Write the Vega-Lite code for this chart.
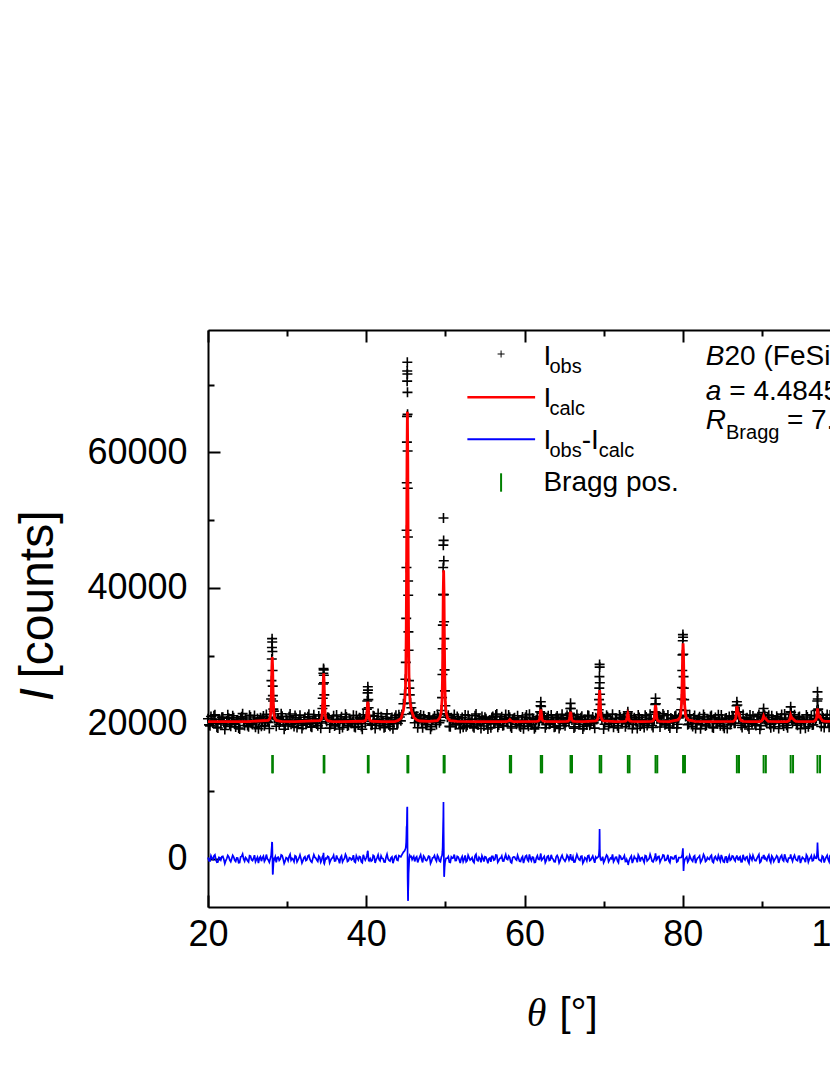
{
"$schema": "https://vega.github.io/schema/vega-lite/v6.json",
"autosize": {"type": "none"},
"padding": {"left": 208, "top": 330, "right": -11, "bottom": 168},
"width": 633,
"height": 577,
"config": {"view": {"stroke": null}, "axis": {"grid": false, "domainColor": "black", "tickColor": "black", "labelColor": "black", "titleColor": "black", "titleFontWeight": "normal", "labelFont": "Liberation Sans", "titleFont": "Liberation Sans"}},
"datasets": {
"pat": [
{"t":20.0,"o":20680,"d":220},{"t":20.25,"o":19630,"d":-310},{"t":20.5,"o":20430,"d":90},{"t":20.75,"o":21120,"d":440},{"t":21.0,"o":20000,"d":-120},{"t":21.25,"o":19310,"d":-470},{"t":21.5,"o":20570,"d":160},{"t":21.75,"o":20900,"d":320},{"t":22.0,"o":20140,"d":-60},{"t":22.25,"o":19760,"d":-240},{"t":22.5,"o":21280,"d":520},{"t":22.75,"o":19890,"d":-180},{"t":23.0,"o":20330,"d":40},{"t":23.25,"o":20810,"d":280},{"t":23.5,"o":19480,"d":-380},{"t":23.75,"o":20490,"d":120},{"t":24.0,"o":19160,"d":-540},{"t":24.25,"o":20960,"d":360},{"t":24.5,"o":20220,"d":-20},{"t":24.75,"o":20640,"d":200},{"t":25.0,"o":19680,"d":-280},{"t":25.25,"o":21200,"d":480},{"t":25.5,"o":19970,"d":-140},{"t":25.75,"o":20390,"d":70},{"t":26.0,"o":19420,"d":-420},{"t":26.25,"o":20730,"d":240},{"t":26.5,"o":20510,"d":130},{"t":26.75,"o":19570,"d":-340},{"t":27.0,"o":21070,"d":410},{"t":27.25,"o":20080,"d":-80},{"t":27.5,"o":20300,"d":20},{"t":27.75,"o":19250,"d":-500},
{"t":27.9,"o":20900,"d":150},{"t":27.98,"o":23600,"d":500},{"t":28.02,"o":26300,"d":1200},{"t":28.06,"o":29500,"d":1800},{"t":28.08,"o":31200,"d":2400},{"t":28.1,"o":32500,"d":2500},{"t":28.12,"o":32000,"d":2200},{"t":28.14,"o":30600,"d":1100},{"t":28.16,"o":27800,"d":-900},{"t":28.18,"o":25500,"d":-2200},{"t":28.2,"o":24100,"d":-2300},{"t":28.22,"o":23300,"d":-1700},{"t":28.26,"o":22100,"d":-900},{"t":28.32,"o":21800,"d":200},{"t":28.38,"o":20700,"d":-100},
{"t":28.5,"o":20850,"d":300},{"t":28.75,"o":20600,"d":180},{"t":29.0,"o":19810,"d":-220},{"t":29.25,"o":21410,"d":580},{"t":29.5,"o":20190,"d":-30},{"t":29.75,"o":19620,"d":-320},{"t":30.0,"o":20460,"d":100},{"t":30.25,"o":20980,"d":360},{"t":30.5,"o":19860,"d":-200},{"t":30.75,"o":20110,"d":-70},{"t":31.0,"o":21170,"d":460},{"t":31.25,"o":19380,"d":-440},{"t":31.5,"o":20540,"d":140},{"t":31.75,"o":20320,"d":40},{"t":32.0,"o":19720,"d":-260},{"t":32.25,"o":20900,"d":320},{"t":32.5,"o":20000,"d":-120},{"t":32.75,"o":21340,"d":540},{"t":33.0,"o":19530,"d":-360},{"t":33.25,"o":20410,"d":80},{"t":33.5,"o":20690,"d":220},{"t":33.75,"o":19940,"d":-160},{"t":34.0,"o":21080,"d":420},{"t":34.25,"o":19270,"d":-490},
{"t":34.46,"o":22200,"d":300},{"t":34.5,"o":23700,"d":400},{"t":34.54,"o":25800,"d":300},{"t":34.58,"o":27400,"d":600},{"t":34.6,"o":28100,"d":900},{"t":34.62,"o":27900,"d":500},{"t":34.64,"o":27100,"d":-100},{"t":34.66,"o":26000,"d":-600},{"t":34.7,"o":24200,"d":-700},{"t":34.74,"o":22600,"d":-500},{"t":34.8,"o":21300,"d":-200},{"t":34.88,"o":20600,"d":100},
{"t":35.0,"o":20270,"d":10},{"t":35.25,"o":20810,"d":280},{"t":35.5,"o":19840,"d":-200},{"t":35.75,"o":20550,"d":150},{"t":36.0,"o":19600,"d":-320},{"t":36.25,"o":21240,"d":500},{"t":36.5,"o":20130,"d":-60},{"t":36.75,"o":20630,"d":190},{"t":37.0,"o":19390,"d":-430},{"t":37.25,"o":20370,"d":60},{"t":37.5,"o":20950,"d":350},{"t":37.75,"o":19730,"d":-260},{"t":38.0,"o":20500,"d":120},{"t":38.25,"o":20230,"d":-10},{"t":38.5,"o":19490,"d":-380},{"t":38.75,"o":21130,"d":440},{"t":39.0,"o":19920,"d":-160},{"t":39.25,"o":20760,"d":260},{"t":39.5,"o":19130,"d":-560},{"t":39.75,"o":20590,"d":170},
{"t":40.02,"o":21000,"d":200},{"t":40.08,"o":22100,"d":500},{"t":40.13,"o":23300,"d":800},{"t":40.17,"o":24500,"d":1100},{"t":40.2,"o":25400,"d":1200},{"t":40.22,"o":24900,"d":900},{"t":40.26,"o":23500,"d":300},{"t":40.3,"o":22300,"d":-200},{"t":40.36,"o":21200,"d":-300},
{"t":40.5,"o":20310,"d":30},{"t":40.75,"o":19800,"d":-220},{"t":41.0,"o":21040,"d":400},{"t":41.25,"o":20050,"d":-100},{"t":41.5,"o":21460,"d":600},{"t":41.75,"o":19670,"d":-290},{"t":42.0,"o":20440,"d":100},{"t":42.25,"o":19350,"d":-450},{"t":42.5,"o":20720,"d":240},{"t":42.75,"o":20280,"d":20},{"t":43.0,"o":19560,"d":-340},{"t":43.25,"o":20860,"d":300},{"t":43.5,"o":19990,"d":-130},{"t":43.75,"o":21190,"d":470},{"t":44.0,"o":19970,"d":-220},{"t":44.25,"o":20950,"d":400},{"t":44.5,"o":21300,"d":600},
{"t":44.7,"o":22900,"d":1000},{"t":44.85,"o":24300,"d":1200},{"t":44.95,"o":26500,"d":1500},{"t":45.0,"o":29000,"d":1700},{"t":45.05,"o":35500,"d":2500},{"t":45.08,"o":43000,"d":3700},{"t":45.1,"o":48500,"d":4800},{"t":45.12,"o":55500,"d":4600},{"t":45.14,"o":61500,"d":5300},{"t":45.15,"o":65300,"d":6400},{"t":45.17,"o":70500,"d":7600},{"t":45.18,"o":72000,"d":7300},{"t":45.19,"o":73300,"d":7700},{"t":45.2,"o":71550,"d":5500},{"t":45.21,"o":68850,"d":3200},{"t":45.22,"o":65600,"d":900},{"t":45.23,"o":60200,"d":-2700},{"t":45.25,"o":54700,"d":-4200},{"t":45.27,"o":47500,"d":-6000},{"t":45.29,"o":41000,"d":-6200},{"t":45.3,"o":38900,"d":-4800},{"t":45.33,"o":33500,"d":-3500},{"t":45.35,"o":30800,"d":-2200},{"t":45.4,"o":26300,"d":-900},{"t":45.45,"o":25200,"d":200},{"t":45.5,"o":24200,"d":500},{"t":45.6,"o":23000,"d":300},{"t":45.7,"o":22300,"d":350},{"t":45.8,"o":21400,"d":-100},
{"t":46.0,"o":21620,"d":360},{"t":46.25,"o":20820,"d":140},{"t":46.5,"o":19360,"d":-520},{"t":46.75,"o":20780,"d":260},{"t":47.0,"o":20100,"d":-80},{"t":47.25,"o":21110,"d":430},{"t":47.5,"o":19870,"d":-190},{"t":47.75,"o":20260,"d":0},{"t":48.0,"o":20920,"d":340},{"t":48.25,"o":19520,"d":-360},{"t":48.5,"o":20670,"d":210},{"t":48.75,"o":20160,"d":-40},{"t":49.0,"o":21300,"d":520},{"t":49.25,"o":20090,"d":-300},
{"t":49.5,"o":21900,"d":300},{"t":49.58,"o":23800,"d":500},{"t":49.63,"o":27200,"d":1100},{"t":49.66,"o":31000,"d":1800},{"t":49.68,"o":34500,"d":3100},{"t":49.7,"o":39000,"d":4000},{"t":49.72,"o":43000,"d":5300},{"t":49.74,"o":46300,"d":6200},{"t":49.76,"o":50300,"d":8400},{"t":49.78,"o":47000,"d":4400},{"t":49.8,"o":44000,"d":2000},{"t":49.82,"o":39000,"d":-1100},{"t":49.84,"o":35000,"d":-2650},{"t":49.86,"o":32500,"d":-2400},{"t":49.9,"o":27900,"d":-1300},{"t":49.95,"o":24800,"d":-600},{"t":50.0,"o":22600,"d":-300},{"t":50.08,"o":21400,"d":100},
{"t":50.25,"o":20920,"d":110},{"t":50.5,"o":19550,"d":-480},{"t":50.75,"o":20830,"d":290},{"t":51.0,"o":20560,"d":160},{"t":51.25,"o":19780,"d":-240},{"t":51.5,"o":21010,"d":380},{"t":51.75,"o":20020,"d":-120},{"t":52.0,"o":20380,"d":60},{"t":52.25,"o":19410,"d":-420},{"t":52.5,"o":21250,"d":500},{"t":52.75,"o":19710,"d":-270},{"t":53.0,"o":20610,"d":180},{"t":53.25,"o":20190,"d":-30},{"t":53.5,"o":19550,"d":-350},{"t":53.75,"o":21140,"d":440},{"t":54.0,"o":19910,"d":-170},{"t":54.25,"o":20730,"d":240},{"t":54.5,"o":19240,"d":-500},{"t":54.75,"o":20450,"d":100},{"t":55.0,"o":20890,"d":320},{"t":55.25,"o":19970,"d":-140},{"t":55.5,"o":20340,"d":40},{"t":55.75,"o":19370,"d":-440},{"t":56.0,"o":21020,"d":380},{"t":56.25,"o":20090,"d":-80},{"t":56.5,"o":21380,"d":560},{"t":56.75,"o":19750,"d":-250},{"t":57.0,"o":20510,"d":130},{"t":57.25,"o":19630,"d":-310},{"t":57.5,"o":20660,"d":200},{"t":57.75,"o":20210,"d":-20},{"t":58.0,"o":21240,"d":420},{"t":58.25,"o":19540,"d":-460},{"t":58.5,"o":20580,"d":160},{"t":58.75,"o":20810,"d":280},{"t":59.0,"o":19880,"d":-180},{"t":59.25,"o":20400,"d":80},{"t":59.5,"o":19470,"d":-390},{"t":59.75,"o":20930,"d":340},{"t":60.0,"o":20040,"d":-100},{"t":60.25,"o":21240,"d":500},{"t":60.5,"o":19590,"d":-330},{"t":60.75,"o":20290,"d":20},{"t":61.0,"o":20770,"d":260},{"t":61.25,"o":19190,"d":-530},{"t":61.5,"o":20550,"d":150},{"t":61.75,"o":20130,"d":-60},
{"t":61.92,"o":20900,"d":100},{"t":61.98,"o":21700,"d":300},{"t":62.02,"o":22600,"d":600},{"t":62.06,"o":23200,"d":800},{"t":62.1,"o":22500,"d":300},{"t":62.16,"o":21500,"d":-200},{"t":62.24,"o":20600,"d":-100},
{"t":62.5,"o":20990,"d":370},{"t":62.75,"o":19800,"d":-220},{"t":63.0,"o":21120,"d":440},{"t":63.25,"o":19950,"d":-150},{"t":63.5,"o":20430,"d":90},{"t":63.75,"o":19430,"d":-410},{"t":64.0,"o":20840,"d":300},{"t":64.25,"o":20650,"d":200},{"t":64.5,"o":19690,"d":-280},{"t":64.75,"o":21330,"d":540},{"t":65.0,"o":20010,"d":-120},{"t":65.25,"o":20160,"d":-40},{"t":65.5,"o":20900,"d":320},
{"t":65.68,"o":20700,"d":0},{"t":65.74,"o":21500,"d":300},{"t":65.79,"o":22200,"d":500},{"t":65.82,"o":22950,"d":700},{"t":65.86,"o":22200,"d":300},{"t":65.92,"o":21100,"d":-100},{"t":66.0,"o":20500,"d":-150},
{"t":66.25,"o":19300,"d":-480},{"t":66.5,"o":20480,"d":120},{"t":66.75,"o":20710,"d":230},{"t":67.0,"o":19860,"d":-200},{"t":67.25,"o":21060,"d":400},{"t":67.5,"o":19550,"d":-350},{"t":67.75,"o":20360,"d":60},{"t":68.0,"o":21180,"d":460},{"t":68.25,"o":19730,"d":-260},{"t":68.5,"o":20530,"d":140},{"t":68.75,"o":20070,"d":-90},{"t":69.0,"o":20820,"d":280},
{"t":69.32,"o":21000,"d":300},{"t":69.38,"o":22000,"d":500},{"t":69.42,"o":23500,"d":900},{"t":69.45,"o":25200,"d":1500},{"t":69.47,"o":26900,"d":2700},{"t":69.49,"o":28700,"d":4400},{"t":69.5,"o":28300,"d":3800},{"t":69.52,"o":26000,"d":1500},{"t":69.55,"o":24300,"d":400},{"t":69.6,"o":22800,"d":0},{"t":69.68,"o":21300,"d":-200},{"t":69.78,"o":20500,"d":-100},
{"t":70.0,"o":19170,"d":-540},{"t":70.25,"o":20630,"d":190},{"t":70.5,"o":20970,"d":360},{"t":70.75,"o":19980,"d":-140},{"t":71.0,"o":20310,"d":30},{"t":71.25,"o":19410,"d":-420},{"t":71.5,"o":20750,"d":250},{"t":71.75,"o":19640,"d":-300},{"t":72.0,"o":21250,"d":500},{"t":72.25,"o":20110,"d":-70},{"t":72.5,"o":20590,"d":170},{"t":72.75,"o":19490,"d":-380},
{"t":72.92,"o":20400,"d":-100},{"t":72.98,"o":20900,"d":-300},{"t":73.03,"o":21400,"d":-600},{"t":73.06,"o":21700,"d":-400},{"t":73.1,"o":20600,"d":-900},{"t":73.16,"o":20300,"d":-500},{"t":73.24,"o":20100,"d":-200},
{"t":73.5,"o":21100,"d":420},{"t":73.75,"o":19830,"d":-210},{"t":74.0,"o":20420,"d":80},{"t":74.25,"o":19260,"d":-500},{"t":74.5,"o":20870,"d":310},{"t":74.75,"o":20500,"d":120},{"t":75.0,"o":19920,"d":-160},{"t":75.25,"o":21210,"d":480},{"t":75.5,"o":19670,"d":-290},{"t":75.75,"o":20320,"d":40},{"t":76.0,"o":20690,"d":220},{"t":76.25,"o":19380,"d":-440},
{"t":76.4,"o":20600,"d":0},{"t":76.47,"o":21700,"d":300},{"t":76.52,"o":22800,"d":500},{"t":76.56,"o":23700,"d":800},{"t":76.6,"o":22900,"d":400},{"t":76.66,"o":21600,"d":-200},{"t":76.74,"o":20700,"d":-100},
{"t":77.0,"o":20960,"d":360},{"t":77.25,"o":20050,"d":-100},{"t":77.5,"o":21400,"d":580},{"t":77.75,"o":19780,"d":-240},{"t":78.0,"o":20380,"d":60},{"t":78.25,"o":19610,"d":-320},{"t":78.5,"o":20790,"d":270},{"t":78.75,"o":20200,"d":-20},{"t":79.0,"o":21050,"d":400},{"t":79.25,"o":19330,"d":-460},{"t":79.5,"o":20810,"d":180},
{"t":79.8,"o":22000,"d":200},{"t":79.86,"o":23600,"d":300},{"t":79.9,"o":25300,"d":500},{"t":79.94,"o":27800,"d":600},{"t":79.97,"o":30100,"d":1000},{"t":80.0,"o":32200,"d":1300},{"t":80.02,"o":33100,"d":1560},{"t":80.04,"o":32700,"d":900},{"t":80.07,"o":30200,"d":-600},{"t":80.1,"o":26900,"d":-1770},{"t":80.13,"o":25200,"d":-1200},{"t":80.18,"o":23500,"d":-500},{"t":80.26,"o":21900,"d":-100},{"t":80.36,"o":21000,"d":100},
{"t":80.5,"o":21110,"d":300},{"t":80.75,"o":19900,"d":-180},{"t":81.0,"o":20460,"d":100},{"t":81.25,"o":19520,"d":-360},{"t":81.5,"o":21150,"d":450},{"t":81.75,"o":19990,"d":-130},{"t":82.0,"o":20730,"d":240},{"t":82.25,"o":19220,"d":-520},{"t":82.5,"o":20410,"d":80},{"t":82.75,"o":20940,"d":340},{"t":83.0,"o":19760,"d":-240},{"t":83.25,"o":20270,"d":10},{"t":83.5,"o":21010,"d":380},{"t":83.75,"o":19440,"d":-400},{"t":84.0,"o":20640,"d":200},{"t":84.25,"o":20150,"d":-50},{"t":84.5,"o":21270,"d":510},{"t":84.75,"o":19650,"d":-300},{"t":85.0,"o":20540,"d":140},{"t":85.25,"o":19280,"d":-480},{"t":85.5,"o":20800,"d":280},{"t":85.75,"o":20370,"d":60},{"t":86.0,"o":19820,"d":-220},{"t":86.25,"o":21130,"d":440},{"t":86.5,"o":20010,"d":-120},
{"t":86.66,"o":20700,"d":0},{"t":86.74,"o":21700,"d":200},{"t":86.8,"o":22600,"d":300},{"t":86.84,"o":23200,"d":500},{"t":86.9,"o":22700,"d":200},{"t":86.98,"o":21700,"d":-100},{"t":87.08,"o":20800,"d":-150},
{"t":87.25,"o":20890,"d":320},{"t":87.5,"o":19400,"d":-420},{"t":87.75,"o":20330,"d":40},{"t":88.0,"o":20720,"d":240},{"t":88.25,"o":19570,"d":-340},{"t":88.5,"o":21240,"d":500},{"t":88.75,"o":19940,"d":-160},{"t":89.0,"o":20450,"d":100},{"t":89.25,"o":19690,"d":-280},{"t":89.5,"o":20980,"d":360},{"t":89.75,"o":19140,"d":-560},{"t":90.0,"o":20670,"d":210},
{"t":90.12,"o":20900,"d":200},{"t":90.18,"o":21600,"d":400},{"t":90.22,"o":22200,"d":600},{"t":90.27,"o":21300,"d":200},{"t":90.35,"o":20600,"d":-100},
{"t":90.5,"o":20230,"d":-10},{"t":90.75,"o":20870,"d":310},{"t":91.0,"o":19850,"d":-200},{"t":91.25,"o":21120,"d":440},{"t":91.5,"o":19500,"d":-380},{"t":91.75,"o":20490,"d":120},{"t":92.0,"o":20780,"d":260},{"t":92.25,"o":20060,"d":-100},{"t":92.5,"o":21320,"d":540},{"t":92.75,"o":19610,"d":-320},{"t":93.0,"o":20580,"d":160},{"t":93.25,"o":19350,"d":-450},
{"t":93.54,"o":20800,"d":150},{"t":93.6,"o":21700,"d":400},{"t":93.64,"o":22440,"d":650},{"t":93.7,"o":21600,"d":200},{"t":93.8,"o":20500,"d":-100},
{"t":94.0,"o":20700,"d":220},{"t":94.25,"o":20340,"d":40},{"t":94.5,"o":19730,"d":-260},{"t":94.75,"o":21030,"d":390},{"t":95.0,"o":19970,"d":-140},{"t":95.25,"o":20400,"d":80},{"t":95.5,"o":19290,"d":-480},{"t":95.75,"o":20930,"d":340},{"t":96.0,"o":20180,"d":-40},{"t":96.25,"o":21160,"d":460},{"t":96.5,"o":19800,"d":-220},{"t":96.75,"o":20510,"d":130},
{"t":96.88,"o":20700,"d":100},{"t":96.95,"o":21900,"d":500},{"t":97.0,"o":23300,"d":1300},{"t":97.03,"o":24650,"d":2400},{"t":97.06,"o":23600,"d":1500},{"t":97.12,"o":22100,"d":300},{"t":97.2,"o":21200,"d":-100},{"t":97.3,"o":20600,"d":-200},
{"t":97.5,"o":19540,"d":-360},{"t":97.75,"o":20830,"d":290},{"t":98.0,"o":20110,"d":-70},{"t":98.25,"o":21290,"d":520},{"t":98.5,"o":19420,"d":-420},{"t":98.75,"o":20620,"d":180},{"t":99.0,"o":20770,"d":260},
{"t":20.125,"o":19770,"d":-290},{"t":20.375,"o":21010,"d":460},{"t":20.625,"o":20100,"d":-90},{"t":20.875,"o":21260,"d":610},{"t":21.125,"o":19430,"d":-490},{"t":21.375,"o":20600,"d":210},{"t":21.625,"o":19990,"d":-160},{"t":21.875,"o":20890,"d":380},{"t":22.125,"o":19100,"d":-690},{"t":22.375,"o":20340,"d":50},{"t":22.625,"o":20770,"d":310},{"t":22.875,"o":19560,"d":-410},{"t":23.125,"o":21120,"d":520},{"t":23.375,"o":19920,"d":-200},{"t":23.625,"o":20460,"d":130},{"t":23.875,"o":19310,"d":-560},{"t":24.125,"o":20730,"d":290},{"t":24.375,"o":21430,"d":710},{"t":24.625,"o":19690,"d":-340},{"t":24.875,"o":20280,"d":20},{"t":25.125,"o":19490,"d":-460},{"t":25.375,"o":20940,"d":410},{"t":25.625,"o":19840,"d":-250},{"t":25.875,"o":21170,"d":550},{"t":26.125,"o":20130,"d":-70},{"t":26.375,"o":19220,"d":-620},{"t":26.625,"o":20810,"d":340},{"t":26.875,"o":20510,"d":160},{"t":27.125,"o":19630,"d":-370},{"t":27.375,"o":21320,"d":640},{"t":27.625,"o":20150,"d":-170},
{"t":28.625,"o":19570,"d":-520},{"t":28.875,"o":20680,"d":260},{"t":29.125,"o":20200,"d":-30},{"t":29.375,"o":21050,"d":480},{"t":29.625,"o":19130,"d":-670},{"t":29.875,"o":20580,"d":200},{"t":30.125,"o":19810,"d":-260},{"t":30.375,"o":21390,"d":680},{"t":30.625,"o":20370,"d":70},{"t":30.875,"o":19550,"d":-420},{"t":31.125,"o":20830,"d":350},{"t":31.375,"o":20040,"d":-130},{"t":31.625,"o":21210,"d":580},{"t":31.875,"o":19240,"d":-610},{"t":32.125,"o":20520,"d":160},{"t":32.375,"o":19870,"d":-230},{"t":32.625,"o":20960,"d":430},{"t":32.875,"o":20160,"d":-50},{"t":33.125,"o":19420,"d":-500},{"t":33.375,"o":21270,"d":610},{"t":33.625,"o":20430,"d":110},{"t":33.875,"o":19650,"d":-360},{"t":34.125,"o":20640,"d":230},{"t":34.375,"o":20050,"d":-160},
{"t":35.125,"o":20900,"d":390},{"t":35.375,"o":19300,"d":-570},{"t":35.625,"o":20390,"d":80},{"t":35.875,"o":21110,"d":520},{"t":36.125,"o":19780,"d":-280},{"t":36.375,"o":20290,"d":20},{"t":36.625,"o":19170,"d":-650},{"t":36.875,"o":20970,"d":430},{"t":37.125,"o":20070,"d":-110},{"t":37.375,"o":21350,"d":660},{"t":37.625,"o":19610,"d":-380},{"t":37.875,"o":20550,"d":180},{"t":38.125,"o":20020,"d":-140},{"t":38.375,"o":21180,"d":560},{"t":38.625,"o":19400,"d":-510},{"t":38.875,"o":20410,"d":100},{"t":39.125,"o":20810,"d":340},{"t":39.375,"o":19530,"d":-430},{"t":39.625,"o":21260,"d":610},{"t":39.875,"o":19990,"d":-190},
{"t":40.625,"o":19720,"d":-340},{"t":40.875,"o":21130,"d":530},{"t":41.125,"o":19250,"d":-600},{"t":41.375,"o":20560,"d":190},{"t":41.625,"o":20080,"d":-100},{"t":41.875,"o":20990,"d":440},{"t":42.125,"o":20340,"d":50},{"t":42.375,"o":19460,"d":-470},{"t":42.625,"o":21400,"d":690},{"t":42.875,"o":19850,"d":-240},{"t":43.125,"o":20480,"d":140},{"t":43.375,"o":19190,"d":-640},{"t":43.625,"o":20870,"d":360},{"t":43.875,"o":20060,"d":-140},{"t":44.125,"o":21270,"d":490},{"t":44.375,"o":20370,"d":300},
{"t":46.125,"o":20080,"d":-370},{"t":46.375,"o":21060,"d":320},{"t":46.625,"o":20270,"d":-80},{"t":46.875,"o":21250,"d":600},{"t":47.125,"o":19370,"d":-530},{"t":47.375,"o":20630,"d":230},{"t":47.625,"o":19800,"d":-270},{"t":47.875,"o":20940,"d":410},{"t":48.125,"o":19120,"d":-680},{"t":48.375,"o":20500,"d":150},{"t":48.625,"o":21070,"d":490},{"t":48.875,"o":19840,"d":-320},{"t":49.125,"o":20910,"d":250},{"t":49.375,"o":20400,"d":-420},
{"t":50.375,"o":21210,"d":340},{"t":50.625,"o":19510,"d":-530},{"t":50.875,"o":20430,"d":110},{"t":51.125,"o":21310,"d":640},{"t":51.375,"o":19890,"d":-220},{"t":51.625,"o":20720,"d":280},{"t":51.875,"o":19230,"d":-610},{"t":52.125,"o":20870,"d":370},{"t":52.375,"o":20180,"d":-40},{"t":52.625,"o":19510,"d":-440},{"t":52.875,"o":21150,"d":540},{"t":53.125,"o":19970,"d":-170},{"t":53.375,"o":20580,"d":200},{"t":53.625,"o":19340,"d":-550},{"t":53.875,"o":21380,"d":680},{"t":54.125,"o":19760,"d":-290},{"t":54.375,"o":20310,"d":40},{"t":54.625,"o":21030,"d":470},{"t":54.875,"o":19600,"d":-390},{"t":55.125,"o":20690,"d":260},{"t":55.375,"o":19160,"d":-650},{"t":55.625,"o":20500,"d":150},{"t":55.875,"o":20870,"d":370},{"t":56.125,"o":19930,"d":-190},{"t":56.375,"o":21230,"d":590},{"t":56.625,"o":19430,"d":-490},{"t":56.875,"o":20380,"d":80},{"t":57.125,"o":20960,"d":430},{"t":57.375,"o":19710,"d":-320},{"t":57.625,"o":21290,"d":620},{"t":57.875,"o":20110,"d":-110},{"t":58.125,"o":20890,"d":220},{"t":58.375,"o":19320,"d":-590},{"t":58.625,"o":20730,"d":290},{"t":58.875,"o":20160,"d":-50},{"t":59.125,"o":21120,"d":520},{"t":59.375,"o":19650,"d":-360},{"t":59.625,"o":20450,"d":120},{"t":59.875,"o":19210,"d":-620},{"t":60.125,"o":20890,"d":380},{"t":60.375,"o":20030,"d":-130},{"t":60.625,"o":21340,"d":650},{"t":60.875,"o":19780,"d":-280},{"t":61.125,"o":20600,"d":210},{"t":61.375,"o":19410,"d":-500},{"t":61.625,"o":21010,"d":460},{"t":61.875,"o":20350,"d":-90},
{"t":62.375,"o":20630,"d":170},{"t":62.625,"o":19340,"d":-550},{"t":62.875,"o":20820,"d":340},{"t":63.125,"o":19870,"d":-230},{"t":63.375,"o":21250,"d":600},{"t":63.625,"o":20190,"d":-40},{"t":63.875,"o":19510,"d":-440},{"t":64.125,"o":21080,"d":500},{"t":64.375,"o":19250,"d":-600},{"t":64.625,"o":20670,"d":250},{"t":64.875,"o":20360,"d":70},{"t":65.125,"o":19660,"d":-350},{"t":65.375,"o":21200,"d":550},{"t":65.625,"o":20140,"d":-180},
{"t":66.125,"o":20800,"d":290},{"t":66.375,"o":19490,"d":-460},{"t":66.625,"o":21300,"d":630},{"t":66.875,"o":20120,"d":-80},{"t":67.125,"o":20840,"d":350},{"t":67.375,"o":19180,"d":-640},{"t":67.625,"o":20570,"d":190},{"t":67.875,"o":19770,"d":-290},{"t":68.125,"o":21120,"d":520},{"t":68.375,"o":20000,"d":-150},{"t":68.625,"o":20950,"d":420},{"t":68.875,"o":19290,"d":-580},{"t":69.125,"o":20570,"d":90},
{"t":69.875,"o":20960,"d":340},{"t":70.125,"o":19860,"d":-230},{"t":70.375,"o":21190,"d":560},{"t":70.625,"o":19550,"d":-420},{"t":70.875,"o":20490,"d":140},{"t":71.125,"o":21360,"d":670},{"t":71.375,"o":20010,"d":-140},{"t":71.625,"o":20680,"d":260},{"t":71.875,"o":19320,"d":-560},{"t":72.125,"o":20910,"d":400},{"t":72.375,"o":20190,"d":-40},{"t":72.625,"o":21070,"d":490},{"t":72.875,"o":19950,"d":-300},
{"t":73.375,"o":20590,"d":170},{"t":73.625,"o":19230,"d":-610},{"t":73.875,"o":20840,"d":350},{"t":74.125,"o":20350,"d":60},{"t":74.375,"o":21250,"d":600},{"t":74.625,"o":19600,"d":-390},{"t":74.875,"o":20580,"d":200},{"t":75.125,"o":19380,"d":-520},{"t":75.375,"o":20940,"d":410},{"t":75.625,"o":20050,"d":-120},{"t":75.875,"o":21350,"d":660},{"t":76.125,"o":19690,"d":-340},{"t":76.375,"o":20470,"d":-60},
{"t":76.875,"o":20890,"d":310},{"t":77.125,"o":19470,"d":-470},{"t":77.375,"o":20430,"d":110},{"t":77.625,"o":21130,"d":530},{"t":77.875,"o":19900,"d":-210},{"t":78.125,"o":21250,"d":600},{"t":78.375,"o":19330,"d":-550},{"t":78.625,"o":20660,"d":250},{"t":78.875,"o":20210,"d":-20},{"t":79.125,"o":21160,"d":460},{"t":79.375,"o":19880,"d":-360},{"t":79.625,"o":21180,"d":180},
{"t":80.625,"o":19800,"d":-450},{"t":80.875,"o":21260,"d":520},{"t":81.125,"o":20000,"d":-170},{"t":81.375,"o":20800,"d":310},{"t":81.625,"o":19230,"d":-630},{"t":81.875,"o":20430,"d":110},{"t":82.125,"o":20980,"d":440},{"t":82.375,"o":19820,"d":-260},{"t":82.625,"o":21310,"d":640},{"t":82.875,"o":19600,"d":-390},{"t":83.125,"o":20590,"d":200},{"t":83.375,"o":20110,"d":-80},{"t":83.625,"o":21150,"d":540},{"t":83.875,"o":19330,"d":-550},{"t":84.125,"o":20850,"d":360},{"t":84.375,"o":19950,"d":-180},{"t":84.625,"o":20380,"d":80},{"t":84.875,"o":21240,"d":590},{"t":85.125,"o":19560,"d":-410},{"t":85.375,"o":20700,"d":270},{"t":85.625,"o":19250,"d":-600},{"t":85.875,"o":21030,"d":470},{"t":86.125,"o":20140,"d":-70},{"t":86.375,"o":20890,"d":380},{"t":86.625,"o":20010,"d":-320},
{"t":87.125,"o":21700,"d":180},{"t":87.375,"o":19730,"d":-430},{"t":87.625,"o":21300,"d":610},{"t":87.875,"o":20000,"d":-150},{"t":88.125,"o":20810,"d":340},{"t":88.375,"o":19170,"d":-650},{"t":88.625,"o":20520,"d":160},{"t":88.875,"o":21100,"d":510},{"t":89.125,"o":19830,"d":-250},{"t":89.375,"o":20390,"d":80},{"t":89.625,"o":21320,"d":640},{"t":89.875,"o":19670,"d":-400},
{"t":90.375,"o":21170,"d":250},{"t":90.625,"o":20060,"d":-230},{"t":90.875,"o":21210,"d":580},{"t":91.125,"o":19370,"d":-530},{"t":91.375,"o":20560,"d":190},{"t":91.625,"o":20130,"d":-70},{"t":91.875,"o":21040,"d":470},{"t":92.125,"o":19250,"d":-600},{"t":92.375,"o":20800,"d":330},{"t":92.625,"o":20010,"d":-140},{"t":92.875,"o":21370,"d":670},{"t":93.125,"o":19730,"d":-310},{"t":93.375,"o":20550,"d":120},
{"t":93.875,"o":20120,"d":-360},{"t":94.125,"o":21260,"d":520},{"t":94.375,"o":19950,"d":-180},{"t":94.625,"o":20890,"d":380},{"t":94.875,"o":19220,"d":-620},{"t":95.125,"o":20630,"d":230},{"t":95.375,"o":20170,"d":-50},{"t":95.625,"o":21250,"d":600},{"t":95.875,"o":19500,"d":-450},{"t":96.125,"o":20500,"d":150},{"t":96.375,"o":19770,"d":-290},{"t":96.625,"o":21120,"d":490},
{"t":97.375,"o":20700,"d":-180},{"t":97.625,"o":21160,"d":430},{"t":97.875,"o":19380,"d":-550},{"t":98.125,"o":20700,"d":270},{"t":98.375,"o":20100,"d":-90},{"t":98.625,"o":21250,"d":600},{"t":98.875,"o":19610,"d":-380}
],
"calc": [
{"t":20,"i":20250},{"t":25,"i":20250},{"t":27.62,"i":20440},{"t":27.82,"i":20730},{"t":27.92,"i":21490},{"t":27.97,"i":22730},{"t":28.02,"i":25025},{"t":28.07,"i":28270},{"t":28.12,"i":29800},{"t":28.17,"i":28270},{"t":28.22,"i":25025},{"t":28.27,"i":22730},{"t":28.32,"i":21490},{"t":28.42,"i":20730},{"t":28.62,"i":20440},{"t":29.2,"i":20280},{"t":31,"i":20250},
{"t":34.12,"i":20390},{"t":34.32,"i":20610},{"t":34.42,"i":21180},{"t":34.47,"i":22110},{"t":34.52,"i":23830},{"t":34.57,"i":26260},{"t":34.62,"i":27400},{"t":34.67,"i":26260},{"t":34.72,"i":23830},{"t":34.77,"i":22110},{"t":34.82,"i":21180},{"t":34.92,"i":20610},{"t":35.12,"i":20390},{"t":35.7,"i":20270},{"t":37,"i":20250},
{"t":39.7,"i":20310},{"t":39.9,"i":20400},{"t":40.0,"i":20630},{"t":40.05,"i":21020},{"t":40.1,"i":21730},{"t":40.15,"i":22730},{"t":40.2,"i":23200},{"t":40.25,"i":22730},{"t":40.3,"i":21730},{"t":40.35,"i":21020},{"t":40.4,"i":20630},{"t":40.5,"i":20400},{"t":40.7,"i":20310},{"t":42,"i":20260},
{"t":43.6,"i":20270},{"t":44.0,"i":20400},{"t":44.4,"i":20750},{"t":44.7,"i":21940},{"t":44.85,"i":23130},{"t":44.95,"i":25010},{"t":45.0,"i":27240},{"t":45.05,"i":33030},{"t":45.1,"i":43725},{"t":45.15,"i":58870},{"t":45.2,"i":66000},{"t":45.25,"i":58870},{"t":45.3,"i":43725},{"t":45.35,"i":33030},{"t":45.4,"i":27240},{"t":45.45,"i":25010},{"t":45.55,"i":23130},{"t":45.7,"i":21940},{"t":46.0,"i":20900},{"t":46.4,"i":20500},{"t":46.8,"i":20350},{"t":48.0,"i":20300},
{"t":49.0,"i":20400},{"t":49.28,"i":20800},{"t":49.48,"i":21670},{"t":49.58,"i":23460},{"t":49.63,"i":26360},{"t":49.68,"i":31720},{"t":49.73,"i":39320},{"t":49.78,"i":42600},{"t":49.83,"i":39320},{"t":49.88,"i":31720},{"t":49.93,"i":26360},{"t":49.98,"i":23460},{"t":50.08,"i":21670},{"t":50.28,"i":20800},{"t":50.6,"i":20400},{"t":51.5,"i":20280},{"t":54,"i":20250},
{"t":57.7,"i":20250},{"t":58.0,"i":20350},{"t":58.15,"i":20550},{"t":58.3,"i":20350},{"t":58.6,"i":20250},
{"t":61.56,"i":20290},{"t":61.76,"i":20340},{"t":61.86,"i":20480},{"t":61.91,"i":20720},{"t":61.96,"i":21150},{"t":62.01,"i":21760},{"t":62.06,"i":22050},{"t":62.11,"i":21760},{"t":62.16,"i":21150},{"t":62.21,"i":20720},{"t":62.26,"i":20480},{"t":62.36,"i":20340},{"t":62.56,"i":20290},{"t":64,"i":20250},
{"t":65.32,"i":20280},{"t":65.52,"i":20320},{"t":65.62,"i":20440},{"t":65.67,"i":20630},{"t":65.72,"i":20975},{"t":65.77,"i":21470},{"t":65.82,"i":21700},{"t":65.87,"i":21470},{"t":65.92,"i":20975},{"t":65.97,"i":20630},{"t":66.02,"i":20440},{"t":66.12,"i":20320},{"t":66.32,"i":20280},{"t":67.5,"i":20250},
{"t":69.0,"i":20350},{"t":69.2,"i":20500},{"t":69.3,"i":20900},{"t":69.35,"i":21460},{"t":69.4,"i":22575},{"t":69.45,"i":24050},{"t":69.5,"i":24900},{"t":69.55,"i":24050},{"t":69.6,"i":22575},{"t":69.65,"i":21460},{"t":69.7,"i":20900},{"t":69.8,"i":20500},{"t":70.0,"i":20350},{"t":71.5,"i":20250},
{"t":72.56,"i":20280},{"t":72.76,"i":20310},{"t":72.86,"i":20410},{"t":72.91,"i":20560},{"t":72.96,"i":20855},{"t":73.01,"i":21270},{"t":73.06,"i":21460},{"t":73.11,"i":21270},{"t":73.16,"i":20855},{"t":73.21,"i":20560},{"t":73.26,"i":20410},{"t":73.36,"i":20310},{"t":73.56,"i":20280},{"t":74.8,"i":20250},
{"t":76.06,"i":20300},{"t":76.26,"i":20370},{"t":76.36,"i":20570},{"t":76.41,"i":20890},{"t":76.46,"i":21475},{"t":76.51,"i":22310},{"t":76.56,"i":22700},{"t":76.61,"i":22310},{"t":76.66,"i":21475},{"t":76.71,"i":20890},{"t":76.76,"i":20570},{"t":76.86,"i":20370},{"t":77.06,"i":20300},{"t":78.3,"i":20270},
{"t":79.4,"i":20500},{"t":79.64,"i":20900},{"t":79.74,"i":21290},{"t":79.84,"i":22790},{"t":79.89,"i":24520},{"t":79.94,"i":27180},{"t":79.99,"i":30410},{"t":80.04,"i":31800},{"t":80.09,"i":30410},{"t":80.14,"i":27180},{"t":80.19,"i":24520},{"t":80.24,"i":22790},{"t":80.34,"i":21290},{"t":80.44,"i":20900},{"t":80.7,"i":20500},{"t":81.5,"i":20300},{"t":83.5,"i":20250},
{"t":86.4,"i":20300},{"t":86.6,"i":20500},{"t":86.7,"i":20800},{"t":86.76,"i":21450},{"t":86.8,"i":22150},{"t":86.84,"i":22540},{"t":86.88,"i":22350},{"t":86.94,"i":21900},{"t":87.0,"i":21600},{"t":87.06,"i":21500},{"t":87.11,"i":21450},{"t":87.17,"i":21000},{"t":87.25,"i":20600},{"t":87.4,"i":20400},{"t":87.7,"i":20300},{"t":88.5,"i":20250},
{"t":89.8,"i":20270},{"t":90.0,"i":20400},{"t":90.1,"i":20600},{"t":90.16,"i":20850},{"t":90.22,"i":21070},{"t":90.28,"i":20900},{"t":90.36,"i":20750},{"t":90.5,"i":20720},{"t":90.6,"i":20500},{"t":90.8,"i":20300},{"t":92,"i":20250},
{"t":93.2,"i":20270},{"t":93.42,"i":20400},{"t":93.54,"i":20650},{"t":93.6,"i":20980},{"t":93.64,"i":21200},{"t":93.7,"i":21000},{"t":93.8,"i":20750},{"t":93.94,"i":20700},{"t":94.05,"i":20500},{"t":94.3,"i":20290},{"t":95.3,"i":20250},
{"t":96.6,"i":20300},{"t":96.82,"i":20500},{"t":96.92,"i":20900},{"t":96.98,"i":21600},{"t":97.03,"i":22200},{"t":97.08,"i":21800},{"t":97.16,"i":21100},{"t":97.25,"i":20950},{"t":97.35,"i":21000},{"t":97.45,"i":20700},{"t":97.7,"i":20350},{"t":98.0,"i":20300},{"t":100,"i":20300}
],
"bragg": [
{"t":28.12},{"t":28.19},{"t":34.62},{"t":34.71},{"t":40.2},{"t":40.3},{"t":45.2},{"t":45.32},{"t":49.78},{"t":49.91},{"t":58.15},{"t":58.31},{"t":62.06},{"t":62.23},{"t":65.82},{"t":66.0},{"t":69.5},{"t":69.7},{"t":73.06},{"t":73.27},{"t":76.56},{"t":76.78},{"t":80.04},{"t":80.28},{"t":86.84},{"t":87.11},{"t":90.22},{"t":90.5},{"t":93.64},{"t":93.94},{"t":97.03},{"t":97.35}
],
"legcross": [{"t":57.04,"i":74508}],
"legred": [{"t":52.78,"t2":61.34,"i":68118}],
"legblue": [{"t":52.78,"t2":61.34,"i":61921}],
"leggreen": [{"t":57.04,"i":56903,"i2":54188}],
"txt": [
{"t":62.39,"i":72885,"s":"I"},{"t":62.39,"i":66717,"s":"I"},{"t":62.39,"i":60519,"s":"I"},{"t":67.22,"i":60519,"s":"-I"},{"t":62.39,"i":54336,"s":"Bragg pos."},
{"t":85.28,"i":72885,"s":"20 (FeSi)"},{"t":85.88,"i":67720,"s":"= 4.4845 Å"},{"t":93.16,"i":63441,"s":"= 7.1 %"}
],
"txti": [
{"t":82.92,"i":72885,"s":"B"},{"t":82.92,"i":67720,"s":"a"},{"t":82.92,"i":63441,"s":"R"}
],
"sub": [
{"t":63.15,"i":71631,"s":"obs"},{"t":63.15,"i":65462,"s":"calc"},{"t":63.15,"i":59264,"s":"obs"},{"t":69.38,"i":59264,"s":"calc"},{"t":85.47,"i":61965,"s":"Bragg"}
]
},
"layer": [
{"data": {"name": "pat"},
 "mark": {"type": "point", "shape": "M-1,0H1M0,-1V1", "filled": false, "stroke": "black", "strokeWidth": 1.6, "size": 100, "opacity": 1},
 "encoding": {
  "x": {"field": "t", "type": "quantitative", "scale": {"domain": [20, 100], "nice": false, "zero": false},
        "axis": {"orient": "bottom", "values": [20, 40, 60, 80, 100], "ticks": false, "tickSize": 0, "labels": true, "labelFontSize": 36, "labelPadding": 10, "labelFlush": false, "labelOverlap": false, "format": "d", "domain": true, "domainWidth": 2, "title": "θ", "titleFont": "Liberation Serif", "titleFontStyle": "italic", "titleFontSize": 40, "titleX": 328, "titleY": 118, "titleAlign": "center", "titleBaseline": "alphabetic"}},
  "y": {"field": "o", "type": "quantitative", "scale": {"domain": [-7100, 78050], "nice": false, "zero": false},
        "axis": {"orient": "left", "values": [0, 20000, 40000, 60000], "ticks": false, "tickSize": 0, "labels": true, "labelFontSize": 36, "labelPadding": 21, "labelFlush": false, "labelOverlap": false, "format": "d", "domain": true, "domainWidth": 2, "title": "I", "titleFontStyle": "italic", "titleFontSize": 48, "titleAngle": -90, "titleX": -156, "titleY": 364, "titleAlign": "center", "titleBaseline": "alphabetic"}}
 }},
{"data": {"name": "calc"},
 "mark": {"type": "line", "color": "#ff0000", "strokeWidth": 2.8},
 "encoding": {
  "x": {"field": "t", "type": "quantitative", "axis": {"orient": "bottom", "values": [20, 40, 60, 80, 100], "labels": false, "domain": false, "ticks": true, "tickSize": -12, "tickWidth": 2, "title": "[°]", "titleFontSize": 40, "titleX": 370, "titleY": 118, "titleAlign": "center", "titleBaseline": "alphabetic"}},
  "y": {"field": "i", "type": "quantitative", "axis": {"orient": "left", "values": [0, 20000, 40000, 60000], "labels": false, "domain": false, "ticks": true, "tickSize": -12, "tickWidth": 2, "title": "[counts]", "titleFontSize": 48, "titleAngle": -90, "titleX": -156, "titleY": 264, "titleAlign": "center", "titleBaseline": "alphabetic"}}
 }},
{"data": {"name": "pat"},
 "mark": {"type": "line", "color": "#0000ff", "strokeWidth": 1.7},
 "encoding": {
  "x": {"field": "t", "type": "quantitative", "axis": {"orient": "bottom", "values": [30, 50, 70, 90], "labels": false, "domain": false, "ticks": true, "tickSize": -6, "tickWidth": 2, "title": null}},
  "y": {"field": "d", "type": "quantitative", "axis": {"orient": "left", "values": [10000, 30000, 50000, 70000], "labels": false, "domain": false, "ticks": true, "tickSize": -6, "tickWidth": 2, "title": null}}
 }},
{"data": {"name": "bragg"},
 "mark": {"type": "rule", "color": "#008000", "strokeWidth": 2},
 "encoding": {
  "x": {"field": "t", "type": "quantitative", "axis": {"orient": "top", "values": [20, 40, 60, 80, 100], "labels": false, "domain": true, "domainWidth": 2, "ticks": true, "tickSize": -12, "tickWidth": 2, "title": null}},
  "y": {"datum": 12630, "type": "quantitative", "axis": null},
  "y2": {"datum": 15330}
 }},
{"data": {"name": "legcross"},
 "mark": {"type": "point", "shape": "M-1,0H1M0,-1V1", "filled": false, "stroke": "black", "strokeWidth": 1, "size": 49, "opacity": 1},
 "encoding": {
  "x": {"field": "t", "type": "quantitative", "axis": {"orient": "top", "values": [30, 50, 70, 90], "labels": false, "domain": false, "ticks": true, "tickSize": -6, "tickWidth": 2, "title": null}},
  "y": {"field": "i", "type": "quantitative", "axis": null}
 }},
{"data": {"name": "legred"},
 "mark": {"type": "rule", "color": "#ff0000", "strokeWidth": 2.5},
 "encoding": {"x": {"field": "t", "type": "quantitative", "axis": null}, "x2": {"field": "t2"}, "y": {"field": "i", "type": "quantitative", "axis": null}}},
{"data": {"name": "legblue"},
 "mark": {"type": "rule", "color": "#0000ff", "strokeWidth": 2},
 "encoding": {"x": {"field": "t", "type": "quantitative", "axis": null}, "x2": {"field": "t2"}, "y": {"field": "i", "type": "quantitative", "axis": null}}},
{"data": {"name": "leggreen"},
 "mark": {"type": "rule", "color": "#008000", "strokeWidth": 2},
 "encoding": {"x": {"field": "t", "type": "quantitative", "axis": null}, "y": {"field": "i", "type": "quantitative", "axis": null}, "y2": {"field": "i2"}}},
{"data": {"name": "txt"},
 "mark": {"type": "text", "align": "left", "baseline": "alphabetic", "font": "Liberation Sans", "fontSize": 28, "color": "black"},
 "encoding": {"x": {"field": "t", "type": "quantitative", "axis": null}, "y": {"field": "i", "type": "quantitative", "axis": null}, "text": {"field": "s"}}},
{"data": {"name": "txti"},
 "mark": {"type": "text", "align": "left", "baseline": "alphabetic", "font": "Liberation Sans", "fontSize": 28, "fontStyle": "italic", "color": "black"},
 "encoding": {"x": {"field": "t", "type": "quantitative", "axis": null}, "y": {"field": "i", "type": "quantitative", "axis": null}, "text": {"field": "s"}}},
{"data": {"name": "sub"},
 "mark": {"type": "text", "align": "left", "baseline": "alphabetic", "font": "Liberation Sans", "fontSize": 20, "color": "black"},
 "encoding": {"x": {"field": "t", "type": "quantitative", "axis": null}, "y": {"field": "i", "type": "quantitative", "axis": null}, "text": {"field": "s"}}}
],
"resolve": {"axis": {"x": "independent", "y": "independent"}}
}
